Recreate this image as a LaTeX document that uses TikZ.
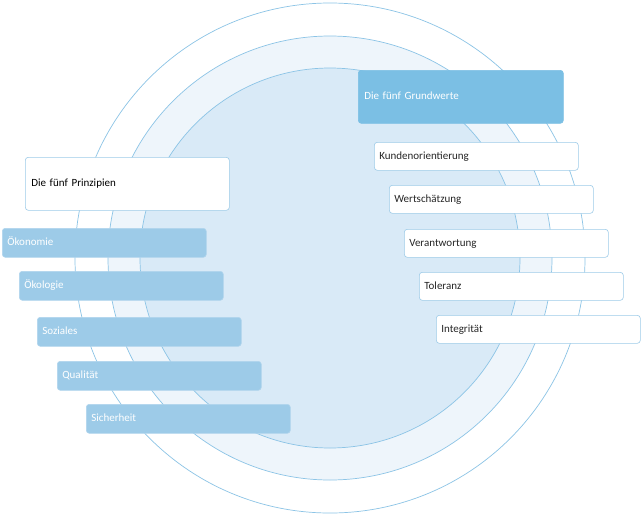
\documentclass[tikz,border=0pt]{standalone}
\usepackage{fontspec}
\setmainfont{Carlito}
\begin{document}
\begin{tikzpicture}[x=1pt,y=-1pt,
  box/.style={draw=#1, rounded corners=3pt, line width=0.6pt, anchor=north west, inner sep=0pt, text height=8pt, text depth=2pt, font=\fontsize{11}{13}\selectfont},
  prin/.style={box=c2!80!white, fill=c2, text=white, minimum width=204pt, minimum height=29pt, align=left, text width=194pt},
  wert/.style={box=c2, fill=white, text=black!85, minimum width=204pt, minimum height=28pt, text width=194pt},
]
\definecolor{c1}{HTML}{7BBFE4}
\definecolor{c2}{HTML}{9DCBE8}
\definecolor{ring}{HTML}{8CC4E6}
\useasboundingbox (0,0) rectangle (642,515);
\fill[white] (0,0) rectangle (642,515);
\draw[ring, line width=0.7pt] (330,258) circle (255);
\draw[ring, fill={rgb,255:red,238;green,245;blue,251}, line width=0.7pt] (330,258) circle (222);
\draw[ring, fill={rgb,255:red,217;green,234;blue,247}, line width=0.7pt] (330,258) circle (190);
\node[box=c1, fill=c1, text=white, minimum width=205pt, minimum height=53pt, text width=193pt] (gw) at (358,70) {Die fünf Grundwerte};
\node[box=c2, fill=white, text=black, minimum width=204pt, minimum height=53pt, text width=192pt] (pr) at (25,157) {Die fünf Prinzipien};
\node[prin] (p1) at (2,228) {Ökonomie};
\node[prin] (p2) at (19,271) {Ökologie};
\node[prin] (p3) at (37,317) {Soziales};
\node[prin] (p4) at (57,361) {Qualität};
\node[prin] (p5) at (86,404) {Sicherheit};
\node[wert] (w1) at (374,142) {Kundenorientierung};
\node[wert] (w2) at (389,185) {Wertschätzung};
\node[wert] (w3) at (404,229) {Verantwortung};
\node[wert] (w4) at (419,272) {Toleranz};
\node[wert] (w5) at (436,315) {Integrität};
\end{tikzpicture}
\end{document}
